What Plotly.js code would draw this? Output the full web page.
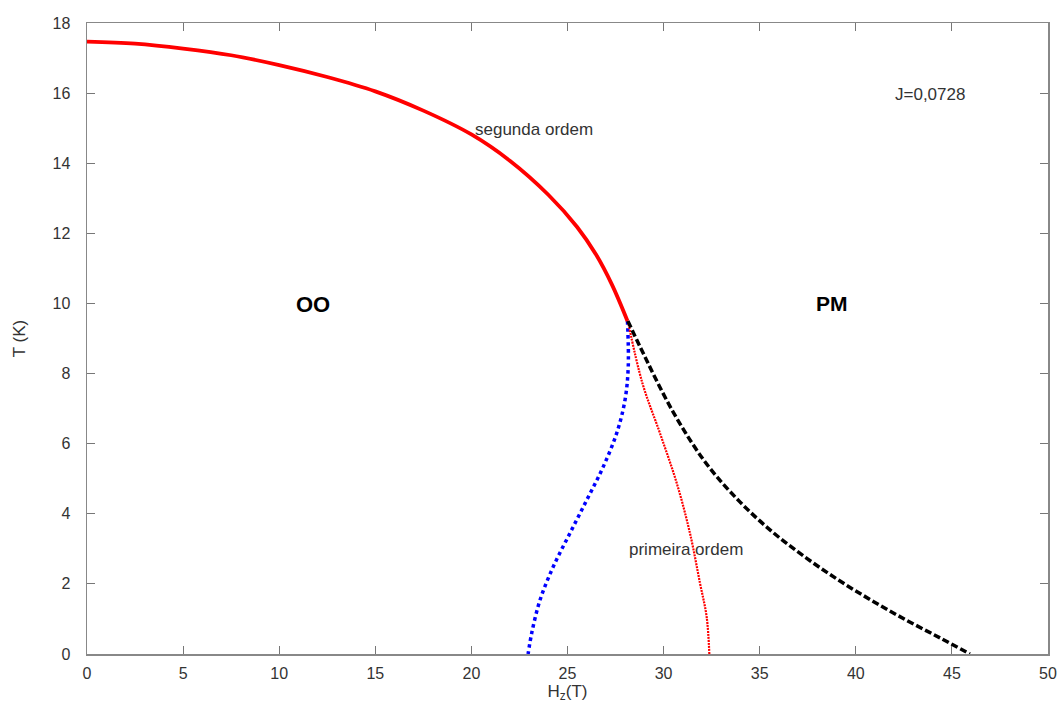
<!DOCTYPE html>
<html>
<head>
<meta charset="utf-8">
<script src="https://cdn.plot.ly/plotly-3.0.1.min.js"></script>
<style>html,body{margin:0;padding:0;background:#fff;}#chart{width:1062px;height:707px;}</style>
</head>
<body>
<div id="chart"></div>
<script>
// Second-order line (red solid)
const segundaH = [0, 2.5, 5, 7.5, 10, 12.5, 15, 17.5, 20, 22, 24, 25.5, 26.5, 27.3, 28.12];
const segundaT = [17.47, 17.41, 17.27, 17.08, 16.80, 16.46, 16.05, 15.50, 14.82, 14.07, 13.10, 12.18, 11.38, 10.55, 9.5];

// Blue dotted
const azulH = [28.12, 28.16, 27.99, 27.56, 26.85, 26.0, 25.13, 24.25, 23.57, 23.14, 22.95];
const azulT = [9.5, 8.19, 7.24, 6.30, 5.33, 4.39, 3.45, 2.48, 1.54, 0.60, 0.0];

// Red dotted (first order)
const primeiraH = [28.14, 28.9, 29.81, 30.68, 31.37, 31.89, 32.24, 32.38];
const primeiraT = [9.5, 7.72, 6.30, 4.88, 3.45, 2.03, 1.06, 0.0];

// Black dashed
const pretoH = [28.14, 28.77, 30.50, 32.24, 33.97, 35.71, 37.45, 39.18, 40.91, 42.65, 44.38, 45.94];
const pretoT = [9.5, 8.77, 6.90, 5.42, 4.34, 3.46, 2.73, 2.08, 1.50, 0.96, 0.46, 0.0];

const xTicks = [0, 5, 10, 15, 20, 25, 30, 35, 40, 45, 50];
const yTicks = [0, 2, 4, 6, 8, 10, 12, 14, 16, 18];

const traces = [
  {x: azulH, y: azulT, mode: 'lines', line: {color: '#0000ff', width: 3.5, dash: 'dot', shape: 'spline', smoothing: 1}},
  {x: primeiraH, y: primeiraT, mode: 'lines', line: {color: '#ff0000', width: 2.2, dash: '2px,1px', shape: 'spline', smoothing: 1}},
  {x: pretoH, y: pretoT, mode: 'lines', line: {color: '#000000', width: 3.5, dash: '7px,3px', shape: 'spline', smoothing: 1}},
  {x: segundaH, y: segundaT, mode: 'lines', line: {color: '#ff0000', width: 3.8, shape: 'spline', smoothing: 1}}
];

const FAM = 'Liberation Sans, Arial, sans-serif';
const tickFnt = {family: FAM, size: 16, color: '#333'};
const titleFnt = {family: FAM, size: 17, color: '#333'};
const annFnt = {family: FAM, size: 17, color: '#333'};
const layout = {
  width: 1062, height: 707,
  margin: {l: 87, r: 14, t: 23, b: 53},
  showlegend: false,
  paper_bgcolor: '#fff', plot_bgcolor: '#fff',
  font: tickFnt,
  xaxis: {
    range: [0, 50], tickvals: xTicks, ticktext: xTicks.map(String),
    ticks: 'inside', ticklen: 8, tickcolor: '#777', mirror: 'ticks',
    showline: true, linecolor: '#888', linewidth: 1.5, showgrid: false, zeroline: false,
    tickfont: tickFnt, ticklabelstandoff: 4,
    title: {text: 'H<sub>z</sub>(T)', font: titleFnt, standoff: 4}
  },
  yaxis: {
    range: [0, 18], tickvals: yTicks, ticktext: yTicks.map(String),
    ticks: 'inside', ticklen: 8, tickcolor: '#777', mirror: 'ticks',
    showline: true, linecolor: '#888', linewidth: 1.5, showgrid: false, zeroline: false,
    tickfont: tickFnt, ticklabelstandoff: 12,
    title: {text: 'T (K)', font: titleFnt, standoff: 22}
  },
  annotations: [
    {x: 23.26, y: 14.95, text: 'segunda ordem', showarrow: false, font: annFnt},
    {x: 31.17, y: 2.99, text: 'primeira ordem', showarrow: false, font: annFnt},
    {x: 43.86, y: 15.97, text: 'J=0,0728', showarrow: false, font: annFnt},
    {x: 11.76, y: 9.98, text: '<b>OO</b>', showarrow: false, font: {family: FAM, size: 22, color: '#000'}},
    {x: 38.76, y: 10.01, text: '<b>PM</b>', showarrow: false, font: {family: FAM, size: 21, color: '#000'}}
  ]
};

Plotly.newPlot('chart', traces, layout, {displayModeBar: false, staticPlot: true});
</script>
</body>
</html>
